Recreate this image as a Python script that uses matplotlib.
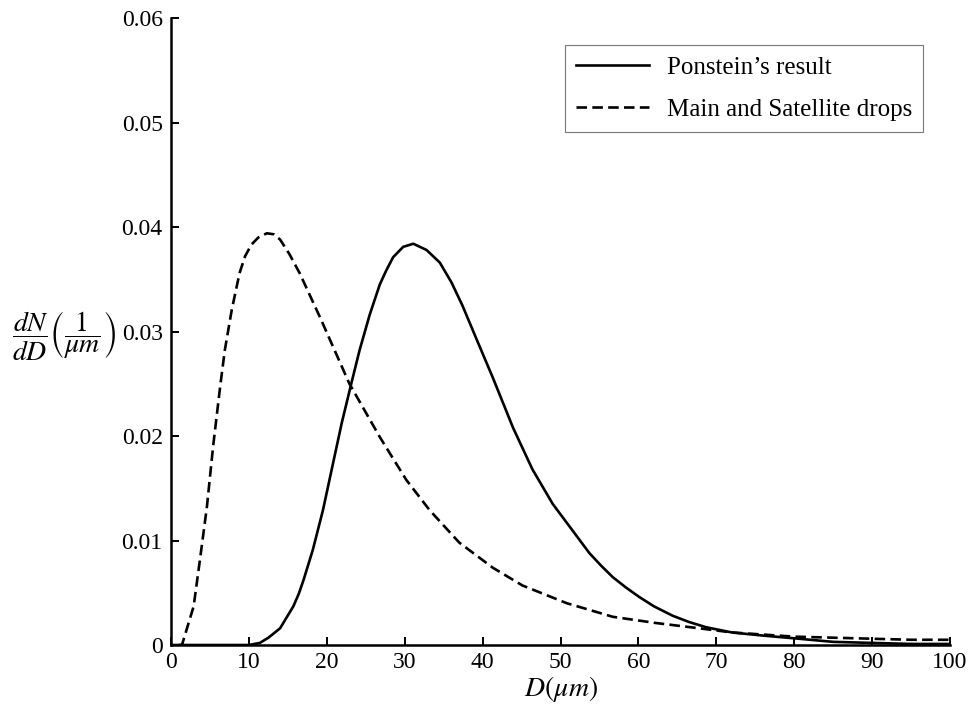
import matplotlib
matplotlib.use('Agg')
import matplotlib.pyplot as plt

# Drop size distributions
d_ponstein = [0, 4, 8, 10, 11.4, 12.5, 14, 15.7, 16.4, 17, 18.2, 19.5, 20.8, 21.9, 23.2,
              24.2, 25.5, 26.8, 27.6, 28.5, 29.8, 31.1, 32.8, 34.5, 36, 37.4, 39.2, 41.3,
              43.9, 46.4, 49, 50.8, 52.3, 53.7, 55.2, 56.7, 58.4, 60.1, 62, 64.4, 66.5,
              68.7, 72, 76, 80.6, 85, 90, 95, 100]
n_ponstein = [0, 0, 0, 0, 0.0002, 0.0007, 0.0016, 0.0037, 0.0049, 0.0062, 0.0091, 0.0129,
              0.0174, 0.0212, 0.0252, 0.0282, 0.0316, 0.0345, 0.0358, 0.0371, 0.0381,
              0.0384, 0.0378, 0.0366, 0.0347, 0.0325, 0.0293, 0.0256, 0.0208, 0.0168,
              0.0135, 0.0117, 0.0102, 0.0088, 0.0076, 0.0065, 0.0055, 0.0046, 0.0037,
              0.0028, 0.0022, 0.0017, 0.0012, 0.0009, 0.0006, 0.0003, 0.0002, 0.0001,
              0.0001]

d_main_sat = [1, 1.4, 2.9, 3.7, 4.6, 5.4, 6.3, 6.9, 7.8, 8.8, 9.5, 10.3, 11.2, 12.3, 13.2,
              14, 15.2, 16.5, 19.1, 22.9, 26.8, 30.2, 33.2, 37, 41.3, 45.1, 50.8, 56.7,
              62.3, 67.8, 72, 76, 80, 85, 90, 95, 100]
n_main_sat = [0, 0, 0.0037, 0.0081, 0.0132, 0.019, 0.0247, 0.0282, 0.0321, 0.0356, 0.0372,
              0.0383, 0.039, 0.0394, 0.0393, 0.0388, 0.0374, 0.0356, 0.0314, 0.025, 0.0199,
              0.0158, 0.0129, 0.0098, 0.0074, 0.0057, 0.004, 0.0027, 0.0021, 0.0016,
              0.0012, 0.001, 0.0008, 0.0007, 0.0006, 0.0005, 0.0005]

x_ticks = [0, 10, 20, 30, 40, 50, 60, 70, 80, 90, 100]
y_ticks = [0, 0.01, 0.02, 0.03, 0.04, 0.05, 0.06]
y_tick_labels = ['0', '0.01', '0.02', '0.03', '0.04', '0.05', '0.06']

plt.rcParams['font.family'] = ['Liberation Serif', 'DejaVu Serif']
plt.rcParams['mathtext.fontset'] = 'stix'

fig = plt.figure(figsize=(9.68, 7.12), dpi=100)
ax = fig.add_axes([0.1767, 0.0941, 0.8047, 0.8806])

ax.plot(d_ponstein, n_ponstein, color='black', linewidth=1.9, label="Ponstein\u2019s result")
ax.plot(d_main_sat, n_main_sat, color='black', linewidth=1.9, linestyle=(0, (4, 2)),
        label='Main and Satellite drops')

ax.set_xlim(0, 100)
ax.set_ylim(0, 0.06)
ax.set_xticks(x_ticks)
ax.set_yticks(y_ticks)
ax.set_yticklabels(y_tick_labels)
ax.tick_params(direction='in', length=6, width=1.4, labelsize=17)
ax.tick_params(axis='y', pad=6)
ax.tick_params(axis='x', pad=5)

for side in ['top', 'right']:
    ax.spines[side].set_visible(False)
for side in ['left', 'bottom']:
    ax.spines[side].set_linewidth(1.8)

ax.set_xlabel(r'$D(\mu m)$', fontsize=20, labelpad=1)
ax.set_ylabel(r'$\dfrac{dN}{dD}\left(\dfrac{1}{\mu m}\right)$', fontsize=20, rotation=0,
              ha='center', va='center')
ax.yaxis.set_label_coords(-0.137, 0.494)

leg = ax.legend(loc='upper right', bbox_to_anchor=(0.9654, 0.957), borderaxespad=0,
                fontsize=18, frameon=True, fancybox=False, handlelength=2.9,
                handletextpad=0.72, borderpad=0.45, labelspacing=0.8)
leg.get_frame().set_edgecolor('#555555')
leg.get_frame().set_linewidth(0.8)

fig.savefig('out.png', dpi=100)
